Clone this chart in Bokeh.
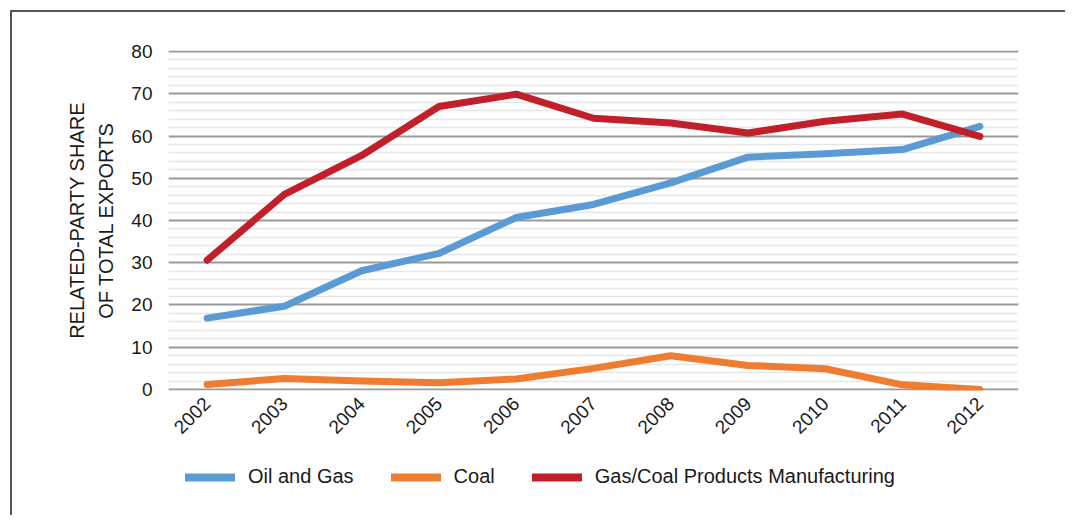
import math
from bokeh.plotting import figure
from bokeh.layouts import column
from bokeh.models import FactorRange, Range1d, FixedTicker, Legend, LegendItem
from bokeh.embed import file_html
from bokeh.resources import INLINE

years = ["2002", "2003", "2004", "2005", "2006", "2007", "2008", "2009", "2010", "2011", "2012"]
oil_gas = [16.9, 19.7, 28.1, 32.2, 40.7, 43.8, 48.9, 55.0, 55.8, 56.8, 62.3]
coal = [1.2, 2.6, 2.0, 1.6, 2.5, 5.0, 8.0, 5.7, 4.9, 1.1, 0.0]
gas_coal_products = [30.6, 46.2, 55.4, 67.0, 69.9, 64.2, 63.1, 60.7, 63.5, 65.2, 59.9]
series_names = ["Oil and Gas", "Coal", "Gas/Coal Products Manufacturing"]
series_colors = ["#5B9BD5", "#EE7D31", "#C1202A"]
y_major = [0, 10, 20, 30, 40, 50, 60, 70, 80]
y_minor = [v for v in range(0, 81, 2) if v % 10 != 0]
y_title = "RELATED-PARTY SHARE\nOF TOTAL EXPORTS"

FONT = "Liberation Sans"
TXT = "#1a1a1a"

# ---- main chart ----
p = figure(x_range=FactorRange(*years), y_range=Range1d(-0.24, 80.24),
           frame_width=850, frame_height=340,
           output_backend="svg", toolbar_location=None,
           min_border_left=168, min_border_right=47, min_border_top=50,
           min_border_bottom=60)
p.outline_line_color = None
p.background_fill_color = "white"
p.border_fill_alpha = 0

ticker = FixedTicker(ticks=y_major, minor_ticks=y_minor)
p.yaxis.ticker = ticker
p.ygrid.ticker = ticker
p.ygrid.grid_line_color = "#999999"
p.ygrid.grid_line_width = 2
p.ygrid.minor_grid_line_color = "#e6e6e6"
p.ygrid.minor_grid_line_width = 1.6
p.xgrid.grid_line_color = None

p.yaxis.axis_line_color = None
p.yaxis.major_tick_line_color = None
p.yaxis.minor_tick_line_color = None
p.yaxis.major_label_text_font = FONT
p.yaxis.major_label_text_font_size = "19px"
p.yaxis.major_label_text_color = TXT
p.yaxis.major_label_standoff = 10
p.yaxis.axis_label = y_title
p.yaxis.axis_label_text_font = FONT
p.yaxis.axis_label_text_font_size = "20px"
p.yaxis.axis_label_text_font_style = "normal"
p.yaxis.axis_label_text_color = TXT
p.yaxis.axis_label_standoff = 11
p.yaxis.axis_label_text_line_height = 1.35

p.xaxis.axis_line_color = None
p.xaxis.major_tick_line_color = None
p.xaxis.minor_tick_line_color = None
p.xaxis.major_label_orientation = math.pi / 4
p.xaxis.major_label_standoff = 4
p.xaxis.major_label_text_font = FONT
p.xaxis.major_label_text_font_size = "19px"
p.xaxis.major_label_text_color = TXT

all_series = [oil_gas, coal, gas_coal_products]
for vals, col in zip(all_series, series_colors):
    p.line(x=years, y=vals, line_width=7, line_color=col, line_cap="round", line_join="round")

# ---- legend strip (same series, drawn outside its visible range) ----
lg = figure(x_range=FactorRange(*years), y_range=Range1d(500, 501),
            width=1065, height=65, output_backend="svg", toolbar_location=None,
            min_border=0)
lg.axis.visible = False
lg.grid.visible = False
lg.outline_line_color = None
lg.background_fill_alpha = 0
lg.border_fill_alpha = 0

items = []
for name, vals, col in zip(series_names, all_series, series_colors):
    r = lg.line(x=years, y=vals, line_width=8, line_color=col, line_cap="round")
    items.append(LegendItem(label=name, renderers=[r]))

legend = Legend(items=items, orientation="horizontal", location=(17, 27),
                glyph_width=50, glyph_height=20, label_standoff=13, spacing=37,
                border_line_color=None, background_fill_alpha=0,
                label_text_font=FONT, label_text_font_size="20px", label_text_color=TXT,
                padding=5, margin=0)
lg.add_layout(legend, "center")

layout = column(p, lg, spacing=0)
layout.styles = {
    "background-color": "white",
    "background-image": "linear-gradient(#555555, #555555), linear-gradient(#555555, #555555)",
    "background-position": "10px 10px, 10px 10px",
    "background-size": "2px 100%, 100% 2px",
    "background-repeat": "no-repeat",
}

open("out.html", "w").write(file_html(layout, INLINE))
